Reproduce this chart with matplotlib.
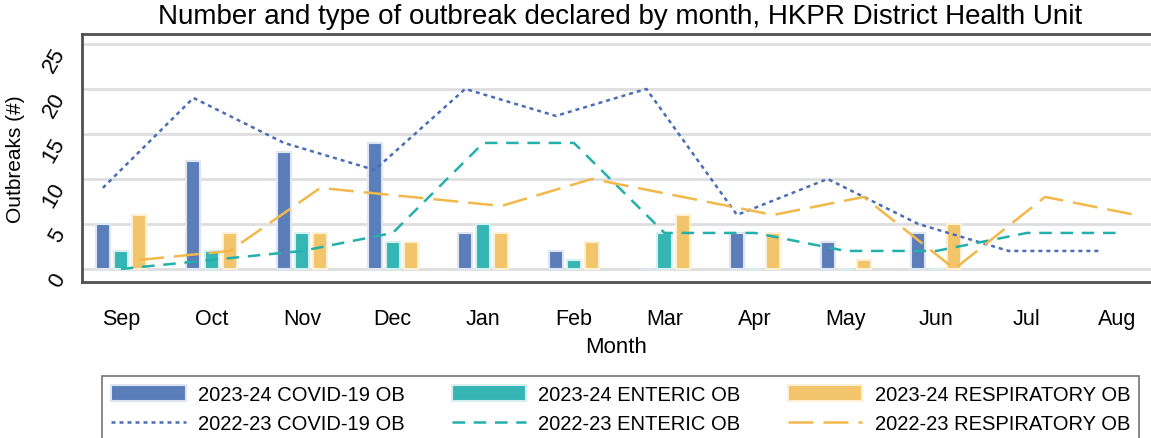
import numpy as np
import matplotlib
matplotlib.use("Agg")
import matplotlib.pyplot as plt
import matplotlib.transforms as mtransforms

plt.rcParams['font.family'] = ['Liberation Sans', 'DejaVu Sans']

months = ["Sep", "Oct", "Nov", "Dec", "Jan", "Feb", "Mar", "Apr", "May", "Jun", "Jul", "Aug"]

# 2023-24 bars (no data after Jun)
covid_2324 = [5, 12, 13, 14, 4, 2, 0, 4, 3, 4]
enteric_2324 = [2, 2, 4, 3, 5, 1, 4, 0, 0, 0]
resp_2324 = [6, 4, 4, 3, 4, 3, 6, 4, 1, 5]

# 2022-23 lines
covid_2223 = [9, 19, 14, 11, 20, 17, 20, 6, 10, 5, 2, 2]
enteric_2223 = [0, 1, 2, 4, 14, 14, 4, 4, 2, 2, 4, 4]
resp_2223 = [1, 2, 9, 8, 7, 10, 8, 6, 8, 0, 8, 6]

c_covid = "#5b7dba"
c_ent = "#35b6b4"
c_resp = "#f2c56b"
l_covid = "#4a6db5"
l_ent = "#22b0ab"
l_resp = "#f2b84a"

fig = plt.figure(figsize=(11.51, 4.39), dpi=100)
ax = fig.add_axes([82/1151, 1-283/439, 1-82/1151, (283-35)/439])

x = np.arange(len(months))
xb = np.arange(len(covid_2324))
off = 0.2
w = 0.155

b1 = ax.bar(xb - off, covid_2324, w, color=c_covid, edgecolor="#dfe5f2", linewidth=1.5, zorder=2)
b2 = ax.bar(xb, enteric_2324, w, color=c_ent, edgecolor="#d6f0ef", linewidth=1.5, zorder=2)
b3 = ax.bar(xb + off, resp_2324, w, color=c_resp, edgecolor="#fdf0d6", linewidth=1.5, zorder=2)

p1, = ax.plot(x - off, covid_2223, color=l_covid, lw=1.8, dashes=(1.6, 1.6), zorder=3)
p2, = ax.plot(x, enteric_2223, color=l_ent, lw=1.8, dashes=(5, 3.5), zorder=3)
p3, = ax.plot(x + off, resp_2223, color=l_resp, lw=1.8, dashes=(10, 4), zorder=3)

ax.set_xlim(-0.43, 11.37)
ax.set_ylim(-1.45, 26.1)
ax.set_yticks([0, 5, 10, 15, 20, 25])
ax.set_xticks(x)
ax.set_xticklabels(months)
ax.tick_params(axis="x", length=0, pad=19, labelsize=15.5)
ax.tick_params(axis="y", length=0, pad=9, labelsize=16, labelrotation=60)
shift = mtransforms.ScaledTranslation(0, -8/100, fig.dpi_scale_trans)
for t in ax.get_yticklabels():
    t.set_transform(t.get_transform() + shift)
ax.grid(axis="y", color="#dedede", lw=2, zorder=0)
ax.set_axisbelow(True)
for s in ["top", "left", "bottom"]:
    ax.spines[s].set_color("#505050")
    ax.spines[s].set_linewidth(2)
ax.spines["right"].set_visible(False)

ax.set_xlabel("Month", fontsize=16, labelpad=5)
ax.set_ylabel("Outbreaks (#)", fontsize=15, labelpad=10)
fig.text(0.539, 1-17/439, "Number and type of outbreak declared by month, HKPR District Health Unit",
         ha="center", va="center", fontsize=20)

handles = [b1, p1, b2, p2, b3, p3]
labels = ["2023-24 COVID-19 OB", "2022-23 COVID-19 OB",
          "2023-24 ENTERIC OB", "2022-23 ENTERIC OB",
          "2023-24 RESPIRATORY OB", "2022-23 RESPIRATORY OB"]
leg = fig.legend(handles, labels, ncol=3,
                 loc="upper left", bbox_to_anchor=(102/1151, 1-377/439),
                 fontsize=14.5, handlelength=3.7, handleheight=0.85, handletextpad=0.6,
                 columnspacing=2.35, labelspacing=0.5, borderpad=0.45, borderaxespad=0,
                 frameon=True, fancybox=False, edgecolor="#505050")
leg.get_frame().set_linewidth(1.2)

fig.savefig("out.png", dpi=100)
